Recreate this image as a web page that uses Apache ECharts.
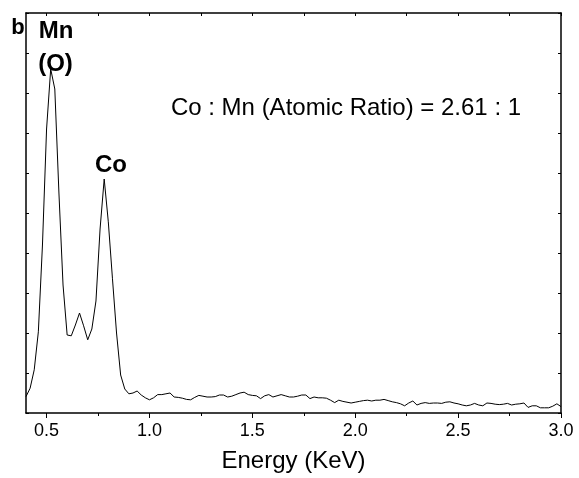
<!DOCTYPE html>
<html>
<head>
<meta charset="utf-8">
<script src="https://cdn.jsdelivr.net/npm/echarts@6/dist/echarts.min.js"></script>
<style>html,body{margin:0;padding:0;background:#fff;}#c{width:579px;height:478px;}</style>
</head>
<body>
<div id="c"></div>
<script>
// Energy (keV) sample positions
var energies = [0.40,0.42,0.44,0.46,0.48,0.50,0.52,0.54,0.56,0.58,0.60,0.62,0.64,0.66,0.68,0.70,0.72,0.74,0.76,0.78,0.80,0.82,0.84,0.86,0.88,0.90,
0.92,0.94,0.96,0.98,1.00,1.02,1.04,1.06,1.08,1.10,
1.12,1.14,1.16,1.18,1.20,1.22,1.24,1.26,1.28,1.30,
1.32,1.34,1.36,1.38,1.40,1.42,1.44,1.46,1.48,1.50,
1.52,1.54,1.56,1.58,1.60,1.62,1.64,1.66,1.68,1.70,
1.72,1.74,1.76,1.78,1.80,1.82,1.84,1.86,1.88,1.90,
1.92,1.94,1.96,1.98,2.00,2.02,2.04,2.06,2.08,2.10,
2.12,2.14,2.16,2.18,2.20,2.22,2.24,2.26,2.28,2.30,
2.32,2.34,2.36,2.38,2.40,2.42,2.44,2.46,2.48,2.50,
2.52,2.54,2.56,2.58,2.60,2.62,2.64,2.66,2.68,2.70,
2.72,2.74,2.76,2.78,2.80,2.82,2.84,2.86,2.88,2.90,
2.92,2.94,2.96,2.98,3.00];
// Intensity (arbitrary units)
var intensity = [4.1,6.2,10.8,20.3,42,71,86,81,55,32,19.5,19.3,22,25,21.8,18.3,21,28,46,58.5,47.8,33.7,20,9.5,6,4.8,
5.0,5.5,4.5,3.8,3.3,3.8,4.6,4.6,4.8,5.0,
4.0,3.9,3.7,3.4,3.3,3.9,4.4,4.2,4.0,4.0,
4.1,4.5,4.5,4.0,4.2,4.6,5.0,5.2,4.6,4.4,
4.3,3.6,4.3,4.6,4.0,4.3,4.6,4.3,4.0,4.0,
4.2,4.5,4.5,3.6,4.0,3.8,3.8,3.7,3.2,2.6,
3.2,2.9,2.7,2.5,2.7,2.9,3.1,3.2,3.0,3.2,
3.2,3.4,3.1,2.8,2.6,2.3,1.8,2.5,3.0,2.0,
2.4,2.6,2.4,2.5,2.5,2.4,2.7,2.8,2.5,2.3,
2.0,1.8,2.0,2.4,2.0,1.8,2.5,2.4,2.2,2.1,
2.2,2.4,2.0,2.2,2.3,2.5,1.4,1.8,1.8,1.3,
1.3,1.3,1.7,2.3,1.6];
var majorTicks = [0.5,1.0,1.5,2.0,2.5,3.0];
var minorTicks = [0.75,1.25,1.75,2.25,2.75];
var topTicks = [0.5,0.75,1.0,1.25,1.5,1.75,2.0,2.25,2.5,2.75,3.0];
var xMin = 0.4, xMax = 3.0;
var yMin = 0, yMax = 100, yStep = 10;
var xTitle = 'Energy (KeV)';
var ratioText = 'Co : Mn (Atomic Ratio) = 2.61 : 1';

var FONT = "'Liberation Sans', Arial, sans-serif";
var pts = energies.map(function (e, i) { return [e, intensity[i]]; });
var chart = echarts.init(document.getElementById('c'), null, {renderer: 'canvas'});
var lineStyle = {color: '#000', width: 1.5};
chart.setOption({
  animation: false,
  backgroundColor: '#fff',
  grid: {left: 26, right: 18, top: 13, bottom: 65},
  xAxis: [
    {type: 'value', min: xMin, max: xMax, position: 'bottom',
     axisLine: {show: true, onZero: false, lineStyle: lineStyle},
     axisTick: {show: true, inside: false, length: 5, lineStyle: {color: '#000', width: 1}, customValues: majorTicks},
     axisLabel: {show: true, color: '#000', fontSize: 18, fontFamily: FONT, margin: 9, customValues: majorTicks,
                 formatter: function (v) { return v.toFixed(1); }},
     splitLine: {show: false},
     name: xTitle, nameLocation: 'middle', nameGap: 36,
     nameTextStyle: {color: '#000', fontSize: 24, fontFamily: FONT}},
    {type: 'value', min: xMin, max: xMax, position: 'bottom',
     axisLine: {show: false},
     axisTick: {show: true, inside: false, length: 3, lineStyle: {color: '#000', width: 1}, customValues: minorTicks},
     axisLabel: {show: false}, splitLine: {show: false}},
    {type: 'value', min: xMin, max: xMax, position: 'top',
     axisLine: {show: true, onZero: false, lineStyle: lineStyle},
     axisTick: {show: true, inside: true, length: 3, lineStyle: {color: '#000', width: 1}, customValues: topTicks},
     axisLabel: {show: false}, splitLine: {show: false}}
  ],
  yAxis: [
    {type: 'value', min: yMin, max: yMax, interval: yStep, position: 'left',
     axisLine: {show: true, onZero: false, lineStyle: lineStyle},
     axisTick: {show: true, inside: true, length: 3, lineStyle: {color: '#000', width: 1}},
     axisLabel: {show: false}, splitLine: {show: false}},
    {type: 'value', min: yMin, max: yMax, interval: yStep, position: 'right',
     axisLine: {show: true, onZero: false, lineStyle: lineStyle},
     axisTick: {show: true, inside: true, length: 3, lineStyle: {color: '#000', width: 1}},
     axisLabel: {show: false}, splitLine: {show: false}}
  ],
  series: [{
    type: 'line', xAxisIndex: 0, yAxisIndex: 0, data: pts,
    showSymbol: false, symbol: 'none', smooth: false,
    lineStyle: {color: '#000', width: 1}
  }],
  graphic: [
    {type: 'text', x: 18, y: 28, style: {text: 'b', font: 'bold 22px ' + FONT, fill: '#000', textAlign: 'center', textVerticalAlign: 'middle'}},
    {type: 'text', x: 56, y: 31, style: {text: 'Mn', font: 'bold 24px ' + FONT, fill: '#000', textAlign: 'center', textVerticalAlign: 'middle'}},
    {type: 'text', x: 55.5, y: 64, style: {text: '(O)', font: 'bold 24px ' + FONT, fill: '#000', textAlign: 'center', textVerticalAlign: 'middle'}},
    {type: 'text', x: 111, y: 165, style: {text: 'Co', font: 'bold 24px ' + FONT, fill: '#000', textAlign: 'center', textVerticalAlign: 'middle'}},
    {type: 'text', x: 346, y: 108, style: {text: ratioText, font: '24px ' + FONT, fill: '#000', textAlign: 'center', textVerticalAlign: 'middle'}}
  ]
});
</script>
</body>
</html>
